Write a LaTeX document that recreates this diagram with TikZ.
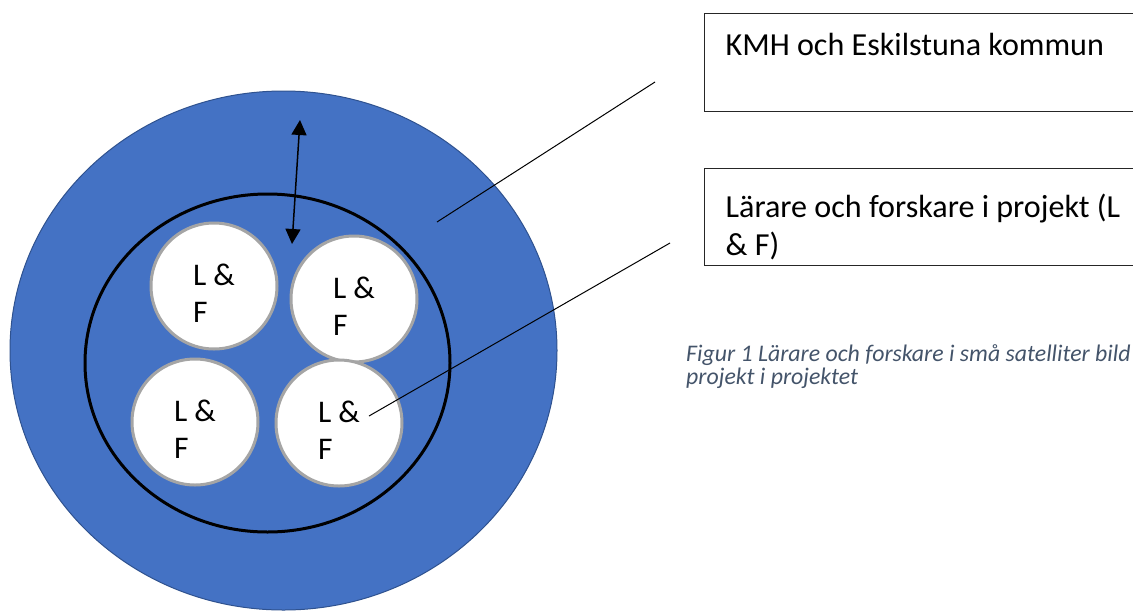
\documentclass[tikz,border=0pt]{standalone}
\usepackage{fontspec}
\setmainfont{Carlito}
\usetikzlibrary{arrows.meta,shapes.geometric}
\definecolor{ringblue}{HTML}{4472C4}
\definecolor{ringedge}{HTML}{2F528F}
\definecolor{satgray}{HTML}{A5A5A5}
\definecolor{capblue}{HTML}{44546A}
\tikzstyle{ring}=[ellipse,draw=ringedge,fill=ringblue,line width=1pt,inner sep=0pt]
\tikzstyle{core}=[ellipse,draw=black,line width=3pt,inner sep=0pt]
\tikzstyle{satellite}=[circle,draw=satgray,fill=white,line width=3pt,minimum size=126pt,inner sep=0pt,align=flush left,text height=72pt,font=\fontsize{31.5}{37}\selectfont]
\tikzstyle{textbox}=[rectangle,draw=black!85,line width=1.3pt,anchor=north west,inner xsep=21pt,inner ysep=0pt,text width=418pt,align=flush left,font=\fontsize{32.1}{38}\selectfont]
\tikzstyle{pointer}=[draw=black,line width=1pt]
\tikzstyle{caption}=[anchor=base west,inner sep=0pt,align=flush left,text=capblue,font=\itshape\fontsize{23.8}{23.5}\selectfont]

\begin{document}
\begin{tikzpicture}[x=1pt,y=-1pt,>={Triangle[length=15pt,width=15pt]}]
    \useasboundingbox (0,0) rectangle (1133,611);
    % Circles
    \node [ring, minimum width=547pt, minimum height=519pt] (ring) at (283.5,350.5) {};
    \node [core, minimum width=365pt, minimum height=338pt] (core) at (267.5,363) {};
    \node [satellite] (lf1) at (214,286) {L \&\\F};
    \node [satellite] (lf2) at (354,299) {L \&\\F};
    \node [satellite] (lf3) at (195,422) {L \&\\F};
    \node [satellite] (lf4) at (339,423) {L \&\\F};

    % Boxes and caption
    \node [textbox, text height=42pt, text depth=56pt] (kmh) at (704,13) {KMH och Eskilstuna kommun};
    \node [textbox, text height=49pt, text depth=48pt] (lfbox) at (704,168) {Lärare och forskare i projekt (L\\\& F)};
    \node [caption] (figcap) at (686,384.5) {Figur 1 Lärare och forskare i små satelliter bild\\projekt i projektet};

    % Connectors
    \coordinate (uptip) at (300,120);
    \coordinate (downtip) at (292,244);
    \coordinate (ringpt) at (437,222);
    \coordinate (kmhpt) at (655,82);
    \coordinate (lfpt) at (369,416);
    \coordinate (lfend) at (670,243);
    \draw [<->, line width=1.5pt] (downtip) -- (uptip);
    \path [pointer] (ringpt) -- (kmhpt);
    \path [pointer] (lfpt) -- (lfend);
\end{tikzpicture}
\end{document}
